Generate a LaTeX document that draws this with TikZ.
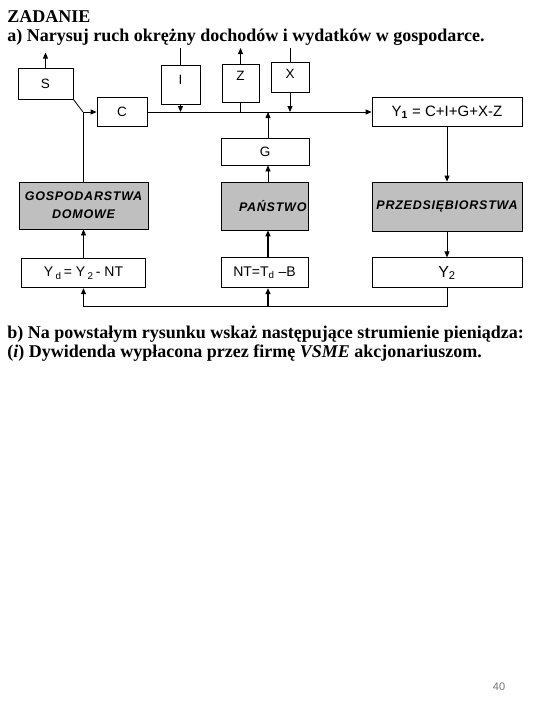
\documentclass[tikz,border=0pt]{standalone}
\usepackage{fontspec}
\setmainfont{Liberation Serif}
\newfontfamily\arialfont{Liberation Sans}
\newfontfamily\spacedfont[LetterSpace=6]{Liberation Sans}
\usetikzlibrary{arrows.meta,positioning,calc}

\tikzset{
  box/.style={draw, inner sep=0pt, font=\arialfont\fontsize{13.5}{15}\selectfont},
  graybox/.style={box, fill=black!25, align=center,
    font=\spacedfont\bfseries\itshape\fontsize{12.5}{18}\selectfont},
  heading/.style={anchor=base west, inner sep=0pt,
    font=\bfseries\fontsize{18}{21}\selectfont},
  thickarrow/.style={->, line width=1.6pt},
}

\begin{document}
\begin{tikzpicture}[x=1pt, y=-1pt, >={Triangle[length=6pt,width=5pt]}, line width=0.8pt]
	\useasboundingbox (0,0) rectangle (540,720);
	% task text
	\node[heading] (title) at (7,23) {ZADANIE};
	\node[heading] (taskA) at (7,41) {a) Narysuj ruch okrężny dochodów i wydatków w gospodarce.};
	\node[heading] (taskB) at (7,338) {b) Na powstałym rysunku wskaż następujące strumienie pieniądza:};
	\node[heading] (taskI) at (7,357) {(\textit{i}) Dywidenda wypłacona przez firmę \textit{VSME} akcjonariuszom.};
	% top row
	\node[box, minimum width=55pt, minimum height=31pt] (S) at (45.5,83.5) {S};
	\node[box, minimum width=39pt, minimum height=39pt, text depth=10pt] (I) at (180.5,85) {I};
	\node[box, minimum width=37pt, minimum height=38pt, text depth=16pt] (Z) at (240.5,83.5) {Z};
	\node[box, minimum width=38pt, minimum height=30pt, text depth=6pt] (X) at (290,77) {X};
	\node[box, minimum width=50pt, minimum height=29pt] (C) at (122,112) {C};
	\node[box, minimum width=150pt, minimum height=29pt, font=\arialfont\fontsize{15}{17}\selectfont] (Y1) at (447,112) {Y\textsubscript{\textbf{1}} = C+I+G+X-Z};
	\node[box, minimum width=88pt, minimum height=27pt] (G) at (265,151.5) {G};
	% sectors
	\node[graybox, minimum width=129pt, minimum height=47pt] (HH) at (83.5,205.5) {GOSPODARSTWA\\DOMOWE};
	\node[graybox, minimum width=87pt, minimum height=48pt, text width=84pt, align=right] (St) at (264.5,206) {PAŃSTWO};
	\node[graybox, minimum width=150pt, minimum height=49pt] (Fi) at (447,206.5) {PRZEDSIĘBIORSTWA};
	% bottom row
	\node[box, minimum width=124pt, minimum height=29pt, font=\arialfont\fontsize{14}{16}\selectfont] (Yd) [below=29pt of HH] {Y\,\textsubscript{d}\,= Y\,\textsubscript{2}\,- NT};
	\node[box, minimum width=87pt, minimum height=30pt, font=\arialfont\fontsize{14}{16}\selectfont] (NT) [below=27pt of St] {NT=T\textsubscript{d} –B};
	\node[box, minimum width=150pt, minimum height=30pt, font=\arialfont\fontsize{16}{18}\selectfont] (Y2) [below=26pt of Fi] {Y\textsubscript{2}};
	\node[font=\arialfont\fontsize{11}{13}\selectfont, text=black!55] (page) at (499,687) {40};
	% helper coordinates
	\coordinate (midx) at (268,0);
	\coordinate (loop) at (0,306);
	\coordinate (junc) at (83,112);
	\coordinate (Sout) at ($(S.north)+(0,-15)$);
	\coordinate (Iin) at (180.5,48);
	\coordinate (Zout) at (240.5,48);
	\coordinate (Xin) at (290,48);
	% flows
	\draw[->] (S.north) -- (Sout);
	\draw (Iin) -- (I.north);
	\draw[->] (I.south) -- (I.south |- C.east);
	\draw[->] (Z.north) -- (Zout);
	\draw (Z.south) -- (Z.south |- C.east);
	\draw (Xin) -- (X.north);
	\draw[->] (X.south) -- (X.south |- C.east);
	\draw (S.south east) -- (junc);
	\draw[->] (junc) -- (C.west);
	\draw (HH.north -| junc) -- (junc);
	\draw[->] (C.east) -- (Y1.west);
	\draw[->] (G.north -| midx) -- (C.east -| midx);
	\draw[->] (St.north -| midx) -- (G.south -| midx);
	\draw[thickarrow] (NT.north -| midx) -- (St.south -| midx);
	\draw[->] (Y1.south) -- (Fi.north);
	\draw[->] (Fi.south) -- (Y2.north);
	\draw[->] (Yd.north) -- (HH.south -| Yd.north);
	\draw[->] (Y2.south) |- (Yd.south |- loop) -- (Yd.south);
	\draw[thickarrow] (midx |- loop) -- (NT.south -| midx);
\end{tikzpicture}
\end{document}
